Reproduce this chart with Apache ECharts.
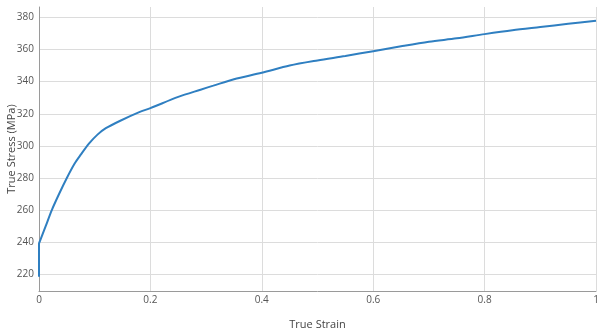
<!DOCTYPE html>
<html>
<head>
<meta charset="utf-8">
<style>
  html, body { margin: 0; padding: 0; background: #fff; }
  #chart { width: 597px; height: 330px; }
</style>
<script src="https://cdn.jsdelivr.net/npm/echarts@6/dist/echarts.min.js"></script>
</head>
<body>
<div id="chart"></div>
<script>
// True stress–strain flow curve
const strain = [0, 0, 0.002, 0.012, 0.023, 0.036, 0.050, 0.064, 0.075, 0.090, 0.105, 0.120,
  0.145, 0.180, 0.200, 0.250, 0.290, 0.313, 0.350, 0.400, 0.450, 0.500, 0.550, 0.600,
  0.650, 0.700, 0.750, 0.800, 0.850, 0.900, 0.950, 1.000];
const stress = [218.5, 239, 241, 250, 260, 270, 280, 289, 294.5, 301.5, 307, 311,
  315.5, 321, 323.5, 330.5, 335, 337.5, 341.5, 345.5, 350, 353.2, 356, 359,
  362, 364.8, 367, 369.6, 372, 374, 376, 378];
const xTicks = [0, 0.2, 0.4, 0.6, 0.8, 1];

const font = '"Open Sans", "Noto Sans", sans-serif';
const chart = echarts.init(document.getElementById('chart'));

chart.setOption({
  animation: false,
  backgroundColor: '#fff',
  grid: { left: 39, right: 1, top: 7, bottom: 39, containLabel: false, outerBoundsMode: 'none' },
  xAxis: {
    type: 'value',
    min: xTicks[0],
    max: xTicks[xTicks.length - 1],
    interval: 0.2,
    name: 'True Strain',
    nameLocation: 'middle',
    nameGap: 28,
    nameMoveOverlap: false,
    nameTextStyle: { fontFamily: font, fontSize: 11, color: '#444' },
    axisLine: { show: true, lineStyle: { color: '#9a9a9a', width: 1 } },
    axisTick: { show: false },
    axisLabel: { fontFamily: font, fontSize: 10, color: '#555', margin: 4,
      formatter: v => String(+v.toFixed(1)) },
    splitLine: { show: true, lineStyle: { color: '#dcdcdc', width: 1 } }
  },
  yAxis: {
    type: 'value',
    min: 209.6,
    max: 386.5,
    splitNumber: 9,
    name: 'True Stress (MPa)',
    nameLocation: 'middle',
    nameGap: 22,
    nameMoveOverlap: false,
    nameTextStyle: { fontFamily: font, fontSize: 11, color: '#444' },
    axisLine: { show: true, lineStyle: { color: '#9a9a9a', width: 1 } },
    axisTick: { show: false },
    axisLabel: { fontFamily: font, fontSize: 10, color: '#555', margin: 5,
      showMinLabel: false, showMaxLabel: false,
      formatter: v => (Math.abs(v % 20) < 1e-6 ? String(v) : '') },
    splitLine: { show: true, showMinLine: false, showMaxLine: false,
      lineStyle: { color: '#dcdcdc', width: 1 } }
  },
  series: [{
    type: 'line',
    data: strain.map((s, i) => [s, stress[i]]),
    showSymbol: false,
    smooth: 0.3,
    lineStyle: { color: '#2f7fc1', width: 2 },
    itemStyle: { color: '#2f7fc1' }
  }]
});
</script>
</body>
</html>
